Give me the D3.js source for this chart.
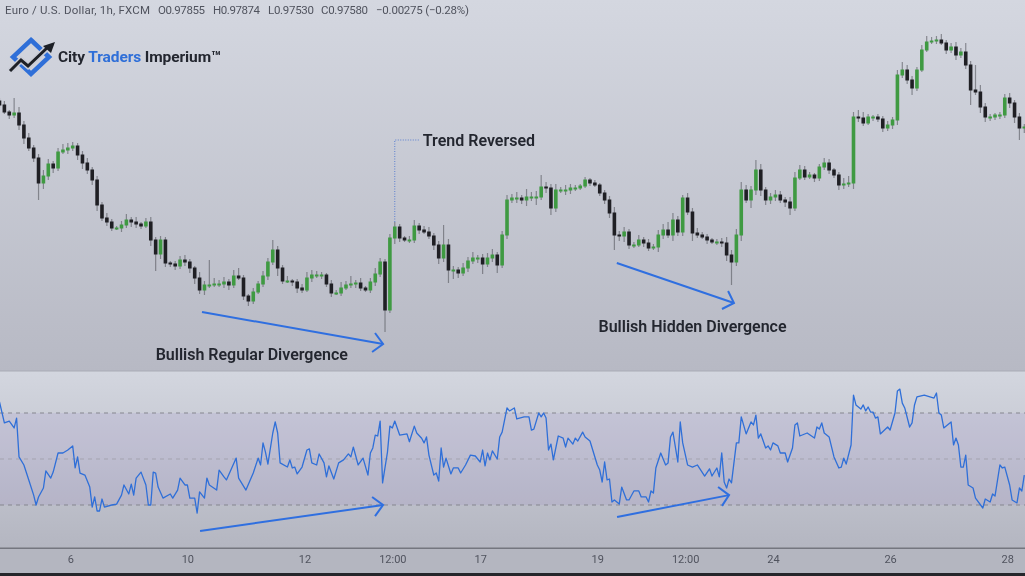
<!DOCTYPE html>
<html><head><meta charset="utf-8">
<script src="https://cdnjs.cloudflare.com/ajax/libs/d3/7.8.5/d3.min.js"></script>
<style>html,body{margin:0;padding:0;background:#222;overflow:hidden}svg{display:block;filter:blur(0.35px)}</style>
</head><body><svg id="c" width="1025" height="576"></svg>
<script>
// Closing price in pips (9758 = 0.9758), one bar every 2 hours
const closes=[9781,9774,9771,9773,9761,9748,9738,9728,9703,9710,9722,9718,9734,9736,9738,9740,9731,9723,9716,9706,
9681,9668,9664,9658,9658,9661,9666,9664,9662,9660,9664,9646,9632,9646,9623,9622,9620,9626,9624,9618,
9608,9596,9601,9601,9602,9602,9604,9601,9610,9608,9590,9585,9594,9602,9610,9624,9636,9618,9605,9605,
9604,9598,9596,9608,9611,9611,9611,9602,9593,9593,9598,9601,9602,9603,9598,9596,9604,9612,9624,9576,
9648,9659,9648,9646,9646,9660,9656,9654,9650,9641,9628,9641,9616,9616,9613,9618,9625,9628,9628,9622,
9628,9631,9621,9651,9686,9688,9688,9686,9689,9689,9689,9699,9698,9678,9696,9696,9696,9698,9698,9700,
9706,9703,9701,9693,9686,9673,9651,9650,9654,9641,9641,9646,9643,9638,9639,9651,9656,9651,9666,9654,
9688,9674,9653,9651,9649,9646,9644,9644,9643,9631,9624,9651,9696,9686,9696,9716,9696,9686,9689,9691,
9686,9684,9678,9708,9716,9709,9711,9708,9719,9723,9716,9711,9701,9702,9703,9769,9768,9763,9769,9769,
9767,9758,9761,9766,9811,9816,9806,9798,9816,9836,9844,9845,9846,9843,9836,9839,9831,9834,9821,9796,
9794,9779,9769,9769,9771,9771,9788,9783,9769,9758,9759];
const upperWicks=[3,4,2,15,6,4,5,3,4,6,5,3,4,6,5,4,3,4,5,3,
4,3,5,3,2,4,6,3,5,2,4,5,3,4,3,2,3,4,5,3,
2,6,4,25,6,4,5,3,6,8,3,2,4,3,5,4,10,4,3,5,
2,3,4,6,5,4,3,2,4,3,6,4,8,3,5,2,4,6,4,3,
4,5,3,2,4,6,3,4,5,3,4,20,6,4,3,5,4,6,3,4,
5,6,3,4,5,4,6,3,8,5,6,12,5,4,6,3,5,4,3,2,
3,2,3,2,3,4,6,4,5,3,3,5,3,4,3,5,6,8,7,4,
3,5,4,5,3,3,2,3,4,6,5,6,8,5,4,10,6,3,4,5,
4,3,5,6,5,4,3,2,3,5,4,2,3,6,7,5,7,6,3,2,
3,3,4,3,5,8,5,4,3,5,6,4,4,6,3,4,5,4,9,4,
25,7,4,3,2,3,4,5,3,4,3];
const lowerWicks=[3,2,4,3,5,6,3,4,17,6,4,5,3,2,4,3,5,6,4,5,
6,3,4,3,2,4,3,5,4,3,2,6,17,5,4,3,4,3,4,5,
6,4,5,3,2,3,4,5,3,2,4,5,3,2,3,4,3,8,3,2,
4,5,3,2,4,3,4,3,4,2,3,2,3,4,3,2,3,4,3,22,
3,6,4,2,3,3,4,2,3,5,6,4,13,9,5,3,4,3,5,10,
3,4,8,3,4,3,5,4,6,4,8,3,5,7,4,3,5,4,3,2,
2,3,2,3,4,5,15,5,6,4,3,2,4,3,2,5,4,3,6,4,
4,3,8,3,2,4,2,3,4,6,23,4,6,3,8,5,6,5,4,4,
3,5,7,3,2,3,2,4,3,3,4,3,5,4,3,6,4,3,2,4,
3,4,3,4,5,3,4,7,3,2,2,2,3,2,4,3,5,3,4,15,
3,6,5,4,3,4,3,5,6,12,5];
const barStepHours=2;

// RSI vertices: hour on the time axis, and RSI value
const rsiHours=[0,2,4,6,7,8,10,12,14,15,16,18,19,21,22,24,26,28,30,31,32,33,35,37,38,39,40,41,42,43,46,48,50,51,53,54,55,56,58,60,61,62,63,64,65,67,70,71,73,74,76,77,78,80,81,82,84,85,86,89,90,92,93,97,98,101,104,106,107,108,109,110,112,113,114,115,118,119,120,121,122,124,126,127,128,130,131,133,134,135,137,139,141,143,144,145,147,149,151,152,153,154,155,156,157,159,160,161,162,164,167,168,170,171,173,174,175,176,178,179,180,181,182,183,185,186,188,189,191,193,195,197,198,199,200,201,202,204,205,206,208,209,211,212,215,217,218,219,221,222,223,224,225,226,227,229,231,232,233,235,236,237,239,240,242,245,246,247,248,249,250,251,252,254,255,257,258,260,262,263,265,266,267,268,269,271,273,274,275,276,278,279,280,282,284,286,289,291,292,294,295,296,297,298,299,300,302,303,304,306,308,309,310,311,312,314,315,316,317,319,320,322,323,325,326,327,328,331,334,335,336,337,338,340,342,344,345,346,347,349,350,351,353,354,355,356,357,358,359,360,361,364,365,367,368,369,370,371,373,374,375,376,379,383,384,385,386,387,390,391,392,393,394,395,396,397,399,400,403,404,406,407,408,410,411,412,414,415,417,418,419,420];
const rsiValues=[74.8,65.7,66.5,63.5,67.8,50.9,47.4,40.9,34.3,30,33.5,37.4,44.8,41.7,44.3,52.6,52.6,53.9,55.7,46.1,50.9,43.9,43,37.8,29.1,33.5,27.4,27.4,32.6,29.1,30,30.4,34.3,38.7,34.8,39.1,34.3,41.7,44.3,38.7,30,30,44.3,43.9,37.8,33,34.8,33,36.5,41.7,38.7,38.7,33,33,26.5,35.7,33,41.7,38.7,36.5,45.2,42.2,40.9,50.4,41.7,36.5,43.9,50.4,47.4,57,53,47.8,61.3,66.1,61.3,48.3,46.5,49.6,46.1,46.5,43.5,46.5,53.9,54.4,48.3,47.4,52.2,48.3,42.2,47,41.3,48.3,49.6,52.2,50.9,55.2,47.4,50.4,43,52.6,54.8,60.4,60,66.5,39.6,53,64.3,63.5,66.5,60.4,60.9,57.5,64.3,61.3,59,57,59.6,51.7,43,43.9,40.4,54.8,46.5,50.4,43.5,46.1,46.1,43.9,47.4,51.7,51.3,48.7,53.9,47,52.6,49.6,53.5,50,59.6,61.7,72.2,70.9,72.2,67.4,68.3,68.3,62.6,63,70,68.3,70,67.8,53.9,56.5,49.6,60,59.1,55.2,59.1,56.5,59.1,57.8,61.7,59.6,57.8,47.4,45.2,40,48.7,40.9,41.3,31.3,32.2,30.4,37.8,32.2,32.2,36.1,36.1,33.5,33.5,31.3,36.1,35.2,46.1,52.6,47.4,48.3,59.6,61.7,48.7,66.1,57,47.4,46.5,47.4,42.6,45.7,42.6,46.1,42.2,52.6,40,37.4,41.3,39.6,57,57,68.3,60.9,66.1,64.8,69.1,59.1,60.9,54.8,55.7,53.9,57,55.7,52.6,52.6,48.7,54.8,64.8,65.7,60,61.3,59.1,63.9,63,65.7,61.3,59.6,50.9,46.1,46.5,50.4,47.8,56.1,77.8,73.5,71.7,73.5,70.9,72.6,70.4,70.4,67.8,68.3,60.9,63.9,62.6,70,79.6,80.4,74.3,72.2,63.9,65.7,73.5,77,77.8,76.5,78.7,70,69.1,63.5,66.1,56.1,59.1,56.1,46.5,46.5,51.7,38.7,37.4,33,28.7,32.6,31.3,34.8,33.9,47.4,46.1,46.5,38.7,32.2,30.9,37.4,36.1,43];
const rsiLevels=[70,50,30];

const tickHours=[29,77,125,161,197,245,281,317,365,413];
const tickLabels=["6","10","12","12:00","17","19","12:00","24","26","28"];

const headerParts=["Euro / U.S. Dollar, 1h, FXCM","O0.97855","H0.97874","L0.97530","C0.97580","−0.00275 (−0.28%)"];
const brandWords=["City ","Traders"," Imperium™"];

// Drawn studies, in chart units: [hour, price] and [hour, RSI]
const priceArrows=[
 {line:[[83,9574],[157.2,9542]],head:[[153.9,9553],[157.2,9542],[152.7,9534]]},
 {line:[[253,9623],[301,9583]],head:[[298.6,9595],[301,9583],[296.1,9577]]}];
const rsiArrows=[
 {line:[[82.2,18.7],[157.2,30]],head:[[152.7,33.5],[157.2,30],[153.9,25.2]]},
 {line:[[253.1,24.8],[299,34.3]],head:[[294.5,37.8],[299,34.3],[296.1,29.6]]}];
const callout=[[162,9664],[162,9746],[172,9746]];
const notes=[
 {text:"Trend Reversed",h:173.5,p:9746},
 {text:"Bullish Regular Divergence",h:64,p:9532},
 {text:"Bullish Hidden Divergence",h:245.5,p:9560}];

const svg=d3.select("#c");
const x=d3.scaleLinear().domain([0,420]).range([-0.5,1024.3]);
const y=d3.scaleLinear().domain([9515,9886]).range([371,0]);
const yr=d3.scaleLinear().domain([30,70]).range([505,413]);
const FONT="Roboto, sans-serif", INK="#50535e", DARK="#23262f", BLUE="#2f6fe0", GREEN="#3f9a42", BLACK="#1f1f24";

const defs=svg.append("defs");
function grad(id,stops){const g=defs.append("linearGradient").attr("id",id).attr("x1",0).attr("x2",0).attr("y1",0).attr("y2",1);
 stops.forEach(s=>g.append("stop").attr("offset",s[0]).attr("stop-color",s[1]));}
grad("gMain",[[0,"#d4d7e0"],[1,"#b7b9c4"]]);
grad("gRsi",[[0,"#d3d6df"],[1,"#b4b6c1"]]);
svg.append("rect").attr("width",1025).attr("height",576).attr("fill","#25262b");
svg.append("rect").attr("width",1025).attr("height",371).attr("fill","url(#gMain)");
svg.append("rect").attr("y",371).attr("width",1025).attr("height",177).attr("fill","url(#gRsi)");
svg.append("rect").attr("y",549).attr("width",1025).attr("height",24).attr("fill","#b4b6c0");
svg.append("rect").attr("y",547.5).attr("width",1025).attr("height",1.5).attr("fill","#74767f");
svg.append("rect").attr("y",370.5).attr("width",1025).attr("height",1).attr("fill","#a9abb6");

// RSI band and levels
svg.append("rect").attr("x",0).attr("width",1025).attr("y",yr(70)).attr("height",yr(30)-yr(70)).attr("fill","#7c5cc4").attr("opacity",0.09);
svg.append("g").selectAll("line").data(rsiLevels).join("line")
 .attr("x1",0).attr("x2",1025).attr("y1",d=>yr(d)).attr("y2",d=>yr(d))
 .attr("stroke",d=>d===50?"#a3a3af":"#85868f").attr("stroke-width",1).attr("stroke-dasharray","4 4");

// Candles
const bars=closes.map((c,i)=>{const o=i?closes[i-1]:c+4;return{h:i*barStepHours,o,c,hi:Math.max(o,c)+upperWicks[i],lo:Math.min(o,c)-lowerWicks[i]};});
const g=svg.append("g");
g.selectAll("line").data(bars).join("line")
 .attr("x1",d=>x(d.h)).attr("x2",d=>x(d.h)).attr("y1",d=>y(d.hi)).attr("y2",d=>y(d.lo))
 .attr("stroke","#55565e").attr("stroke-opacity",0.6).attr("stroke-width",1.2);
g.selectAll("rect").data(bars).join("rect")
 .attr("x",d=>x(d.h)-1.8).attr("width",3.6)
 .attr("y",d=>y(Math.max(d.o,d.c))-0.5).attr("height",d=>Math.max(2,Math.abs(y(d.o)-y(d.c))+1))
 .attr("fill",d=>d.c>=d.o?GREEN:BLACK);

// RSI line
const rsiLine=d3.line().x((d,i)=>x(rsiHours[i])).y(d=>yr(d));
svg.append("path").attr("d",rsiLine(rsiValues)).attr("fill","none").attr("stroke","#2f6fd8").attr("stroke-width",1.3).attr("stroke-linejoin","round");

// Arrows
function arrow(a,sy){const l=d3.line().x(d=>x(d[0])).y(d=>sy(d[1]));
 svg.append("path").attr("d",l(a.line)).attr("fill","none").attr("stroke",BLUE).attr("stroke-width",2);
 svg.append("path").attr("d",l(a.head)).attr("fill","none").attr("stroke",BLUE).attr("stroke-width",2);}
priceArrows.forEach(a=>arrow(a,y));
rsiArrows.forEach(a=>arrow(a,yr));
svg.append("path").attr("d",d3.line().x(d=>x(d[0])).y(d=>y(d[1]))(callout)).attr("fill","none").attr("stroke","#5a7fd0").attr("stroke-width",1).attr("stroke-dasharray","1 1.5");

// Notes
svg.append("g").selectAll("text").data(notes).join("text")
 .attr("x",d=>x(d.h)).attr("y",d=>y(d.p)).attr("dominant-baseline","central")
 .attr("font-family",FONT).attr("font-weight",600).attr("font-size",16).attr("fill",DARK).text(d=>d.text);

// Time axis
const axis=d3.axisBottom(x).tickValues(tickHours).tickSize(0).tickPadding(0).tickFormat((d,i)=>tickLabels[i]);
const ax=svg.append("g").attr("transform","translate(0,555)").call(axis);
ax.select(".domain").remove();
ax.selectAll("text").attr("font-family",FONT).attr("font-size",11).attr("fill",INK);

// Header
const headerX=[5,158,213,268,321,376], headerW=[145,47,47,46,47,93];
svg.append("g").selectAll("text").data(headerParts).join("text")
 .attr("x",(d,i)=>headerX[i]).attr("y",14).attr("font-family",FONT).attr("font-size",11.5).attr("fill",INK)
 .attr("textLength",(d,i)=>headerW[i]).attr("lengthAdjust","spacing").text(d=>d);

// Logo
const logo=svg.append("g");
logo.append("path").attr("d","M31 40 L49 57 L31 74 L13 57 Z").attr("fill","none").attr("stroke","#2f6fd8").attr("stroke-width",4.5);
logo.append("path").attr("d","M10 71 L21 60 L28 66 L46 49").attr("fill","none").attr("stroke","#c9ccd6").attr("stroke-width",6);
logo.append("path").attr("d","M10 71 L21 60 L28 66 L48 47").attr("fill","none").attr("stroke","#1d2026").attr("stroke-width",3);
logo.append("path").attr("d","M43 46 L55 42 L51 53 Z").attr("fill","#1d2026");
const brand=svg.append("text").attr("x",58).attr("y",62).attr("font-family",FONT).attr("font-weight",700).attr("font-size",15.5).attr("letter-spacing",-0.1).attr("xml:space","preserve");
brand.selectAll("tspan").data(brandWords).join("tspan").text(d=>d).attr("fill",(d,i)=>i===1?"#2f6fd8":DARK);
</script></body></html>
